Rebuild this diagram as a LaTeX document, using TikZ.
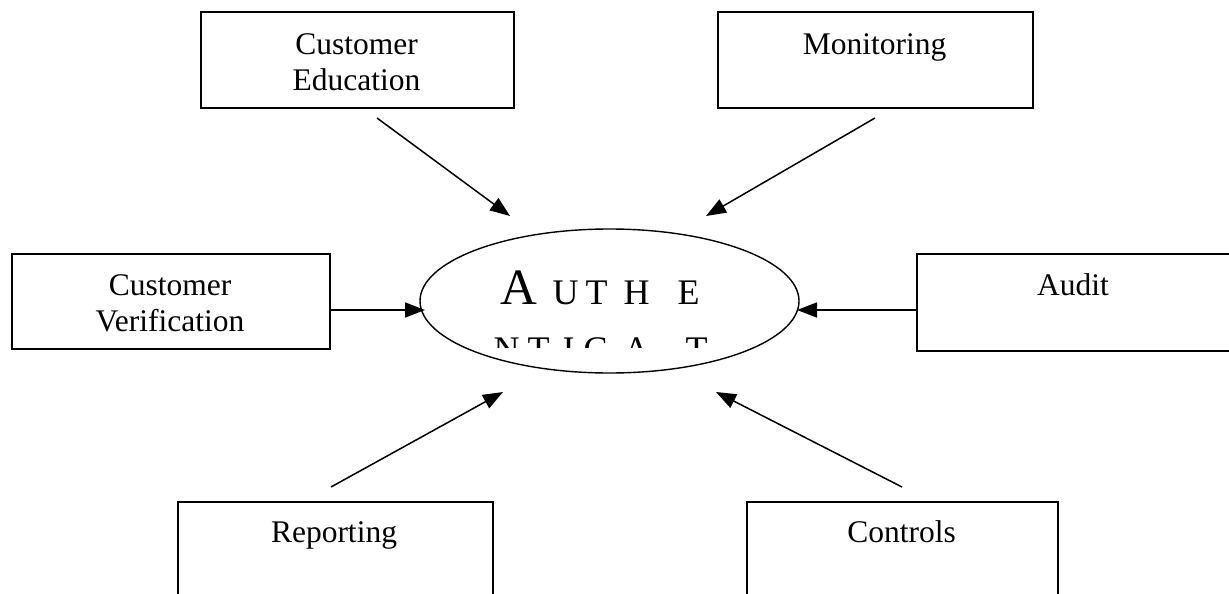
\documentclass[tikz,border=0pt]{standalone}
\usepackage{fontspec}
\setmainfont{Liberation Serif}
\usetikzlibrary{shapes.geometric,arrows.meta}
\newcommand\placeltr[2]{\rlap{\hspace{#1pt}#2}}
\begin{document}
\begin{tikzpicture}[x=1pt,y=-1pt,
  box/.style={draw,line width=1.7pt,rectangle,anchor=north west,inner sep=0pt},
  lbl/.style={font=\fontsize{31.5}{36}\selectfont,anchor=base,align=center,inner sep=0pt},
  arr/.style={line width=1.5pt,-{Triangle[length=20pt,width=15pt]}},
  oval/.style={draw,line width=1.4pt,ellipse,inner sep=0pt,minimum width=379pt,minimum height=144pt}]
\useasboundingbox (0,0) rectangle (1229,594);
\clip (0,0) rectangle (1229,594);
% boxes
\node[box,minimum width=313pt,minimum height=96pt] (ce) at (200,11) {};
\node[box,minimum width=315pt,minimum height=96pt] (mo) at (717,11) {};
\node[box,minimum width=318pt,minimum height=95pt] (cv) at (11,253) {};
\node[box,minimum width=320pt,minimum height=97pt] (au) at (916,253) {};
\node[box,minimum width=315pt,minimum height=100pt] (re) at (177,501) {};
\node[box,minimum width=311pt,minimum height=100pt] (co) at (746,501) {};
% labels (base anchor = last line)
\node[lbl] (ceL) at (356.5,91) {Customer\\Education};
\node[lbl] (moL) at (874.5,55) {Monitoring};
\node[lbl] (cvL) at (170,331) {Customer\\Verification};
\node[lbl] (auL) at (1073,295) {Audit};
\node[lbl] (reL) at (334,542) {Reporting};
\node[lbl] (coL) at (901.5,542) {Controls};
% central ellipse
\node[oval] (auth) at (609.5,301) {};
\begin{scope}
  \clip (430,236) rectangle (790,347);
  \node[anchor=base west,inner sep=0pt,font=\fontsize{36}{40}\selectfont] (t1) at (500,304)
    {\hbox{\placeltr{0}{\fontsize{51}{56}\selectfont A}\placeltr{52}{U}\placeltr{85}{T}\placeltr{123}{H}\placeltr{177}{E}}};
  \node[anchor=base west,inner sep=0pt,font=\fontsize{36}{40}\selectfont] (t2) at (493,361)
    {\hbox{\placeltr{0}{N}\placeltr{34}{T}\placeltr{69}{I}\placeltr{90}{C}\placeltr{130}{A}\placeltr{192}{T}}};
\end{scope}
% connector ends
\coordinate (ceS) at (377,118);
\coordinate (ceE) at (510,216);
\coordinate (moS) at (875,118);
\coordinate (moE) at (706,216);
\coordinate (cvS) at (329,310);
\coordinate (cvE) at (425,310);
\coordinate (auS) at (916,310);
\coordinate (auE) at (797,310);
\coordinate (reS) at (331,487);
\coordinate (reE) at (503,392);
\coordinate (coS) at (902,487);
\coordinate (coE) at (716,392);
\draw[arr] (ceS) -- (ceE);
\draw[arr] (moS) -- (moE);
\draw[arr] (cvS) -- (cvE);
\draw[arr] (auS) -- (auE);
\draw[arr] (reS) -- (reE);
\draw[arr] (coS) -- (coE);
\end{tikzpicture}
\end{document}
